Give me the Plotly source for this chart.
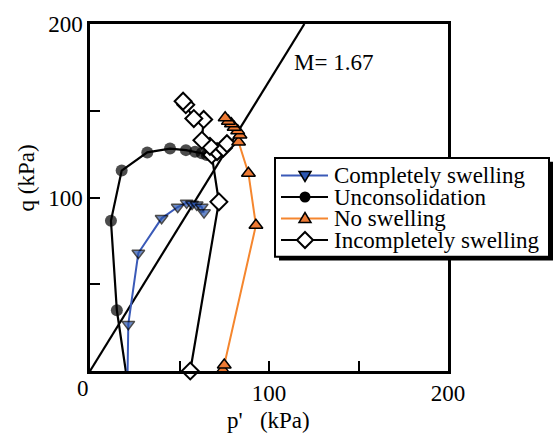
import plotly.graph_objects as go

# Stress paths in p'-q space for four test conditions
comp_p = [21, 21.4, 27, 40, 49, 54, 57, 59.6, 62.4, 63.7]
comp_q = [0, 27, 68, 88, 94.5, 96.9, 96.3, 95.8, 94.5, 91.3]

uncons_p = [20, 15, 11.7, 17.7, 32, 44.7, 53.6, 58.7, 62.4, 65.2]
uncons_q = [0, 35, 86.6, 115.5, 126, 128.2, 127.3, 126.4, 125.5, 124.5]

noswell_p = [74.2, 75, 92.7, 88.5, 83, 83.8, 82.5, 80.5, 79, 77.3, 75.5]
noswell_q = [0.5, 3.5, 84, 114, 132, 136, 138.5, 140.5, 142.5, 144, 146]

incomp_p = [56, 72, 68, 71, 74.5, 76.5, 67, 62.5, 63.5, 58, 53.5, 52]
incomp_q = [0, 97.5, 124.5, 126.5, 128.5, 131, 129.5, 133, 145, 145.5, 153.5, 155.5]

# Critical state line slope
M = 1.67
csl_p = [0, 200 / M]
csl_q = [0, 200]

tick_vals = [0, 50, 100, 150, 200]
tick_text = ["", "", "100", "", "200"]

series_names = ["Completely swelling", "Unconsolidation", "No swelling", "Incompletely swelling"]

FONT = "Liberation Serif, Times New Roman, serif"
BLUE = "#3a5ab8"
BLUE_FILL = "#2b56b0"
ORANGE = "#f5862e"
ORANGE_FILL = "#ee7a34"

W, H = 557, 436
L, R, T, B = 90, 109, 16, 65
PW, PH = W - L - R, H - T - B


def fx(px):
    return (px - L) / PW


def fy(py):
    return (H - B - py) / PH


fig = go.Figure()

fig.add_trace(go.Scatter(x=csl_p, y=csl_q, mode="lines",
                         line=dict(color="black", width=2.2), showlegend=False))

fig.add_trace(go.Scatter(
    x=uncons_p, y=uncons_q, mode="lines+markers", name=series_names[1],
    line=dict(color="black", width=2.2),
    marker=dict(symbol="circle", size=[0] + [12] * (len(uncons_p) - 1), color="black",
                line=dict(width=0)),
    cliponaxis=False, showlegend=False))

fig.add_trace(go.Scatter(
    x=comp_p, y=comp_q, mode="lines+markers", name=series_names[0],
    line=dict(color=BLUE, width=2),
    marker=dict(symbol="triangle-down", size=[0] + [11] * (len(comp_p) - 1), color=BLUE_FILL,
                line=dict(color="black", width=1.5)),
    cliponaxis=False, showlegend=False))

fig.add_trace(go.Scatter(
    x=incomp_p, y=incomp_q, mode="lines+markers", name=series_names[3],
    line=dict(color="black", width=2.2),
    marker=dict(symbol="diamond", size=13, color="white", line=dict(color="black", width=2)),
    cliponaxis=False, showlegend=False))

fig.add_trace(go.Scatter(
    x=noswell_p, y=noswell_q, mode="lines+markers", name=series_names[2],
    line=dict(color=ORANGE, width=2),
    marker=dict(symbol="triangle-up", size=12, color=ORANGE_FILL, line=dict(color="black", width=1.5)),
    cliponaxis=False, showlegend=False))

axis_common = dict(range=[0, 200], tickvals=tick_vals, ticktext=tick_text,
                   ticks="inside", ticklen=10, tickwidth=2, tickcolor="black",
                   showline=True, linecolor="black", linewidth=2.5, mirror=True,
                   showgrid=False, zeroline=False,
                   tickfont=dict(family=FONT, size=23, color="black"))

fig.update_layout(
    width=W, height=H,
    margin=dict(l=L, r=R, t=T, b=B, pad=0),
    paper_bgcolor="white", plot_bgcolor="white",
    xaxis=axis_common, yaxis=axis_common,
    showlegend=False,
)

shapes = []
annotations = []

# Legend frame with drop shadow
shapes.append(dict(type="rect", xref="paper", yref="paper", layer="above",
                   x0=fx(279), x1=fx(553), y0=fy(258), y1=fy(157),
                   fillcolor="black", line=dict(width=0)))
shapes.append(dict(type="rect", xref="paper", yref="paper", layer="above",
                   x0=fx(275), x1=fx(549), y0=fy(254), y1=fy(153),
                   fillcolor="white", line=dict(color="black", width=2)))

rows = [171, 193, 215, 237]
line_colors = [BLUE, "black", ORANGE, "black"]
marker_paths = [
    ("path", "M -6,4 L 6,4 L 0,-6 Z", BLUE_FILL, 1.5),
    ("circle", None, "black", 0),
    ("path", "M -6,-4 L 6,-4 L 0,6 Z", ORANGE_FILL, 1.5),
    ("path", "M 0,8 L 8,0 L 0,-8 L -8,0 Z", "white", 2),
]
for yrow, lc, (kind, path, fill, lw), name in zip(rows, line_colors, marker_paths, series_names):
    shapes.append(dict(type="line", xref="paper", yref="paper", layer="above",
                       x0=fx(281), x1=fx(328), y0=fy(yrow), y1=fy(yrow),
                       line=dict(color=lc, width=2)))
    common = dict(xref="paper", yref="paper", layer="above",
                  xsizemode="pixel", ysizemode="pixel",
                  xanchor=fx(305), yanchor=fy(yrow),
                  fillcolor=fill, line=dict(color="black", width=lw))
    if kind == "circle":
        shapes.append(dict(type="circle", x0=-5.5, x1=5.5, y0=-5.5, y1=5.5, **common))
    else:
        shapes.append(dict(type="path", path=path, **common))
    annotations.append(dict(xref="paper", yref="paper", x=fx(332), y=fy(yrow),
                            xanchor="left", yanchor="middle", showarrow=False,
                            text=name, font=dict(family=FONT, size=23, color="black")))

# Slope label, shared origin label and axis titles
annotations.append(dict(x=csl_p[1] * 0.94, y=178, xref="x", yref="y", xanchor="left", yanchor="middle",
                        showarrow=False, text="M= 1.67",
                        font=dict(family=FONT, size=23, color="black")))
annotations.append(dict(x=0, y=0, xref="x", yref="y", xanchor="center", yanchor="middle",
                        xshift=-7, yshift=-17, showarrow=False, text="0",
                        font=dict(family=FONT, size=23, color="black")))
annotations.append(dict(x=fx(268), y=fy(422), xref="paper", yref="paper",
                        xanchor="center", yanchor="middle",
                        showarrow=False, text="p'\u00a0\u00a0\u00a0(kPa)",
                        font=dict(family=FONT, size=23, color="black")))
annotations.append(dict(x=fx(26), y=fy(174), xref="paper", yref="paper",
                        xanchor="center", yanchor="middle",
                        showarrow=False, text="q (kPa)", textangle=-90,
                        font=dict(family=FONT, size=23, color="black")))

fig.update_layout(shapes=shapes, annotations=annotations)

fig.write_html("out.html")
